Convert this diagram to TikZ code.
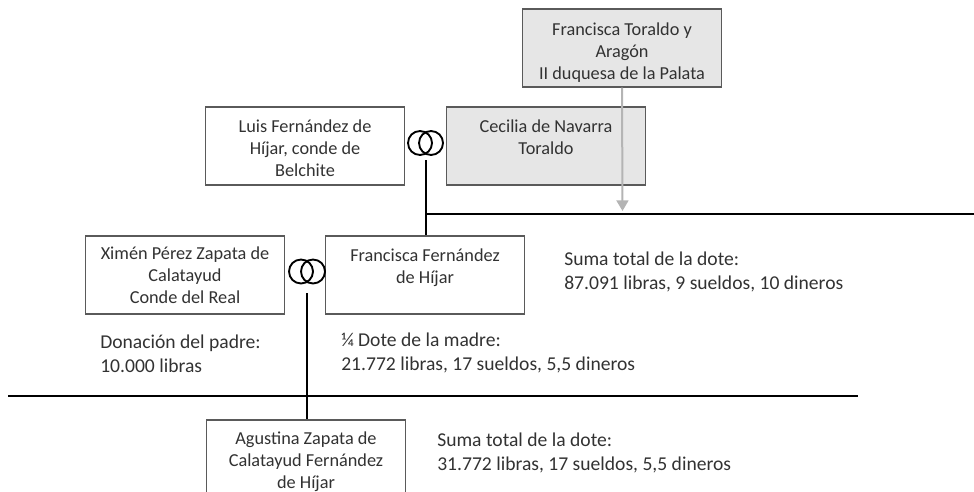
\documentclass[tikz,border=0pt]{standalone}
\usepackage{fontspec}
\setmainfont{Carlito}
\usetikzlibrary{arrows.meta}
\definecolor{boxgrey}{RGB}{230,230,230}
\definecolor{textgrey}{RGB}{50,50,50}
\definecolor{edgegrey}{RGB}{90,90,90}
\definecolor{arrowgrey}{RGB}{180,180,180}
\newcommand{\topgap}[1]{\rule{0pt}{#1}}
\tikzset{
    person/.style={draw=edgegrey, line width=0.9pt, fill=white, inner sep=0pt, minimum width=149pt, minimum height=58.5pt, align=center, text=textgrey, font=\fontsize{13.7}{16.5}\selectfont},
    shaded/.style={person, fill=boxgrey},
    note/.style={anchor=west, align=left, inner sep=0pt, text=textgrey, font=\fontsize{14.7}{18}\selectfont},
    ring/.style={draw=black, line width=1.4pt, circle, inner sep=0pt, minimum size=18pt},
    descent/.style={draw=black, line width=1.4pt}
}
\begin{document}
\begin{tikzpicture}[x=0.75pt, y=-0.75pt]
    \useasboundingbox (0,0) rectangle (974,492);
    \clip (0,0) rectangle (974,492);
    % upper couple
    \node[shaded] (duquesa) at (622,48) {\topgap{16pt}Francisca Toraldo y\\Aragón\\II duquesa de la Palata};
    \node[person] (luis) at (305,146) {\topgap{13pt}Luis Fernández de\\Híjar, conde de\\Belchite};
    \node[shaded] (cecilia) at (546,146) {\topgap{13pt}Cecilia de Navarra\\Toraldo\\~};
    \node[ring] (ringa) at (420,143) {};
    \node[ring] (ringb) at (431,143) {};
    % lower couple
    \node[person] (ximen) at (185,275) {Ximén Pérez Zapata de\\Calatayud\\Conde del Real};
    \node[person] (francisca) at (425,275) {\topgap{12pt}Francisca Fernández\\de Híjar\\~};
    \node[ring] (ringc) at (301,271.5) {};
    \node[ring] (ringd) at (313,271.5) {};
    \node[person] (agustina) at (306,459) {\topgap{13pt}Agustina Zapata de\\Calatayud Fernández\\de Híjar};
    % sums
    \node[note] (sumaa) at (564,272) {Suma total de la dote:\\87.091 libras, 9 sueldos, 10 dineros};
    \node[note] (donacion) at (100,354) {Donación del padre:\\10.000 libras};
    \node[note] (madre) at (341,353) {¼ Dote de la madre:\\21.772 libras, 17 sueldos, 5,5 dineros};
    \node[note] (sumab) at (437,453) {Suma total de la dote:\\31.772 libras, 17 sueldos, 5,5 dineros};
    % lines
    \coordinate (topa) at (426,160);
    \coordinate (topb) at (307,293);
    \coordinate (joina) at (426,214);
    \coordinate (enda) at (974,214);
    \coordinate (starta) at (8,396);
    \coordinate (endb) at (858,396);
    \coordinate (tipa) at (622.5,211);
    \draw[descent] (topa) -- (joina);
    \draw[descent] (joina) -- (francisca.north -| joina);
    \draw[descent] (joina) -- (enda);
    \draw[descent] (topb) -- (agustina.north -| topb);
    \draw[descent] (starta) -- (endb);
    \draw[-{Triangle[length=8pt,width=9pt]}, arrowgrey, line width=1.5pt] (duquesa.south) -- (tipa);
\end{tikzpicture}
\end{document}
